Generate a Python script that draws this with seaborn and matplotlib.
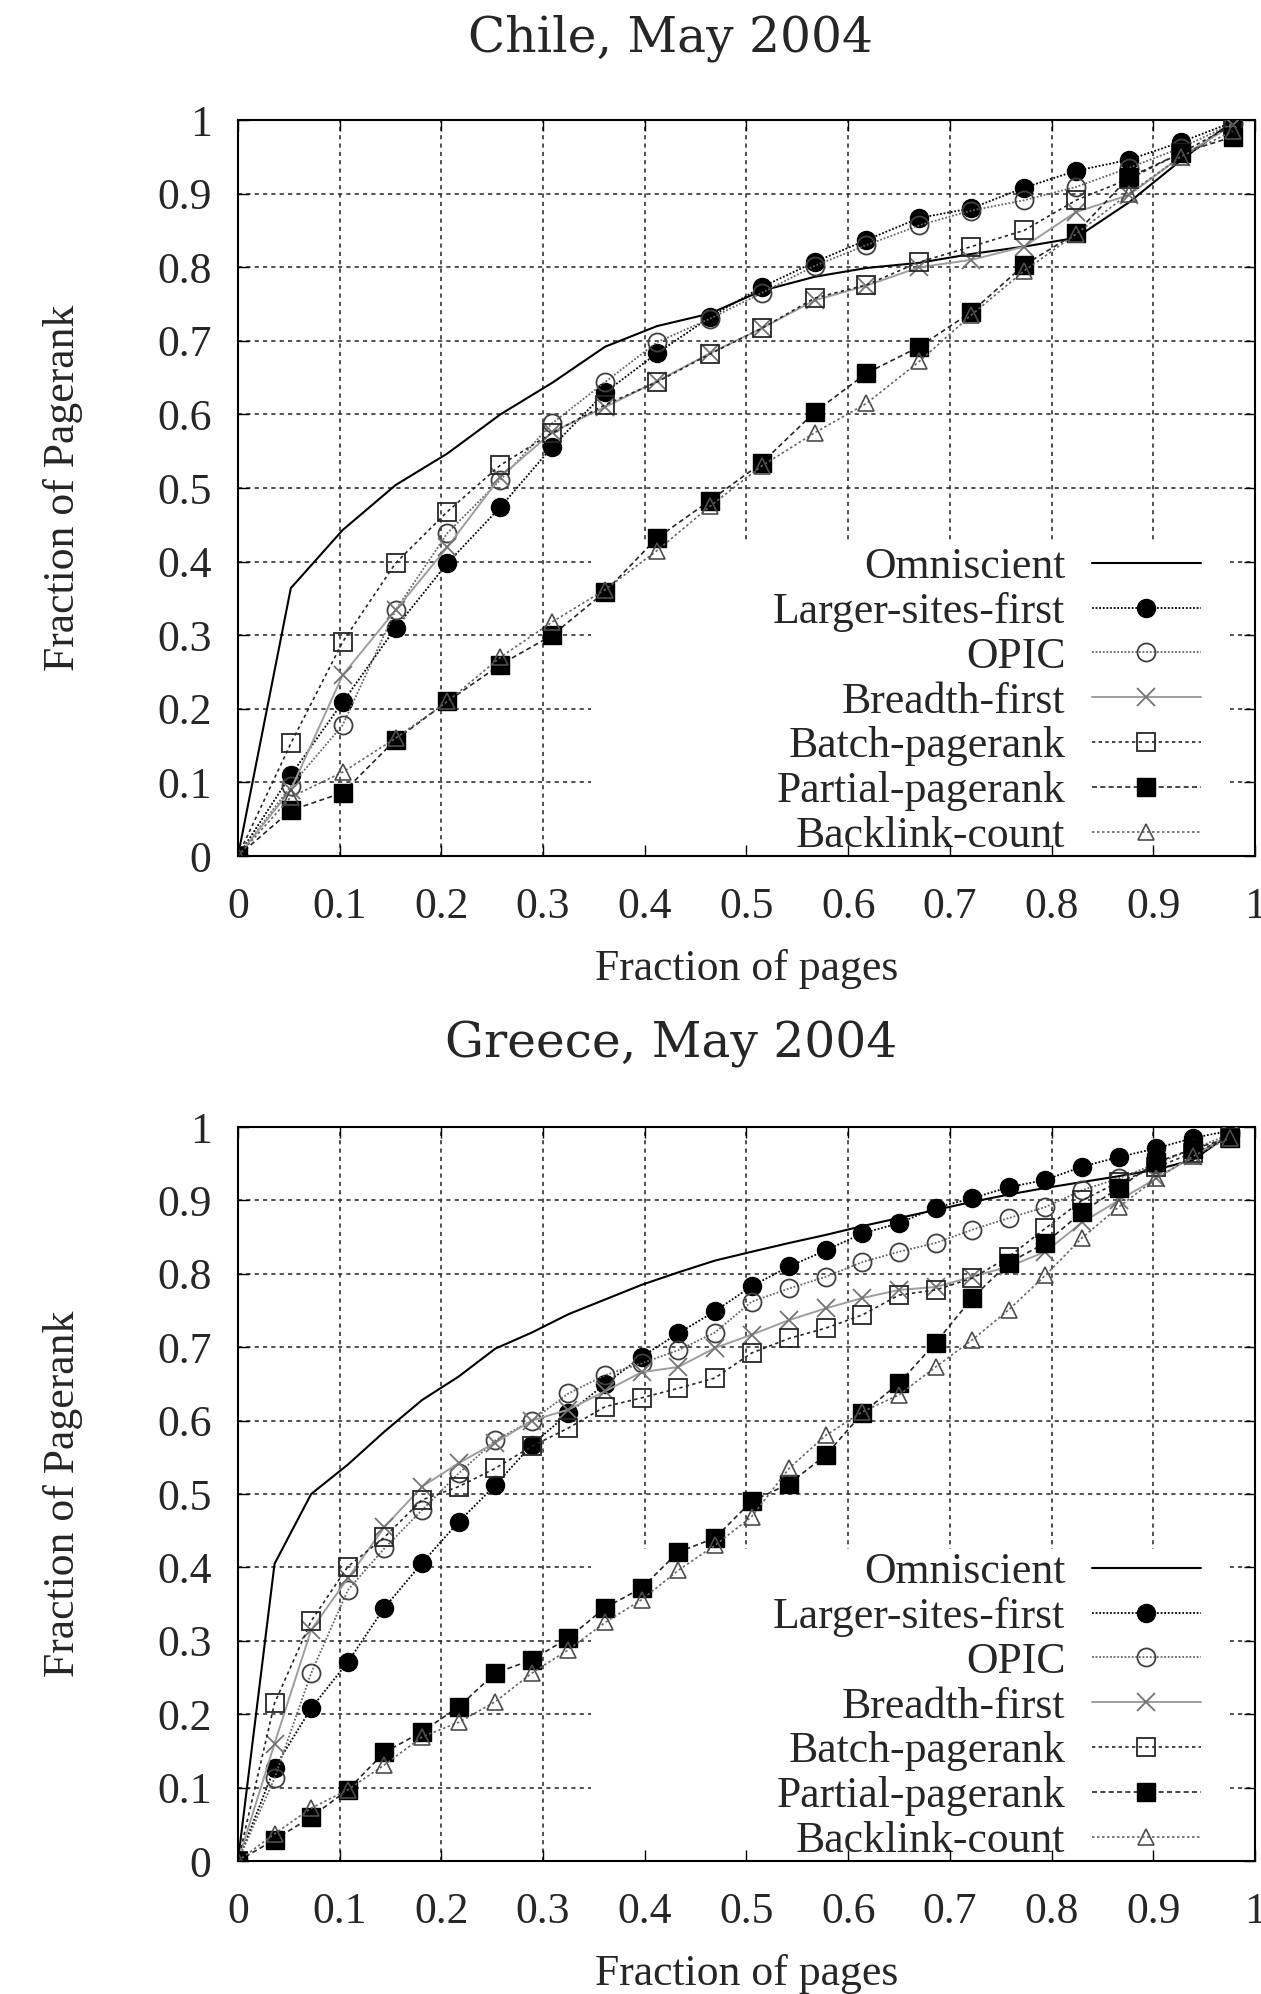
import matplotlib
matplotlib.use("Agg")
import matplotlib.pyplot as plt
import matplotlib.patches as mpatches
import seaborn as sns

# ---------------- data ----------------
series_names = ["Omniscient", "Larger-sites-first", "OPIC", "Breadth-first",
                "Batch-pagerank", "Partial-pagerank", "Backlink-count"]

# Chile, May 2004
chile_x = [0.0, 0.052, 0.103, 0.155, 0.206, 0.258, 0.309, 0.361, 0.412, 0.464,
           0.515, 0.567, 0.618, 0.670, 0.721, 0.773, 0.824, 0.876, 0.927, 0.978]
chile_omniscient = [0, 0.364, 0.443, 0.504, 0.547, 0.600, 0.643, 0.692, 0.720, 0.737,
                    0.768, 0.787, 0.799, 0.806, 0.818, 0.828, 0.840, 0.888, 0.945, 0.998]
chile_larger = [0, 0.110, 0.209, 0.310, 0.398, 0.474, 0.556, 0.630, 0.683, 0.732,
                0.773, 0.807, 0.837, 0.867, 0.880, 0.908, 0.931, 0.946, 0.970, 0.997]
chile_opic = [0, 0.095, 0.178, 0.334, 0.439, 0.511, 0.588, 0.644, 0.698, 0.730,
              0.765, 0.802, 0.830, 0.857, 0.877, 0.891, 0.909, 0.935, 0.962, 0.995]
chile_breadth = [0, 0.090, 0.246, 0.334, 0.420, 0.515, 0.576, 0.610, 0.645, 0.683,
                 0.717, 0.755, 0.775, 0.800, 0.810, 0.828, 0.875, 0.898, 0.950, 0.993]
chile_batch = [0, 0.153, 0.291, 0.398, 0.468, 0.531, 0.575, 0.613, 0.644, 0.682,
               0.717, 0.758, 0.776, 0.807, 0.828, 0.850, 0.891, 0.920, 0.955, 0.993]
chile_partial = [0, 0.062, 0.086, 0.158, 0.210, 0.260, 0.300, 0.359, 0.432, 0.483,
                 0.534, 0.603, 0.656, 0.692, 0.739, 0.803, 0.846, 0.922, 0.955, 0.977]
chile_backlink = [0, 0.080, 0.114, 0.160, 0.210, 0.270, 0.318, 0.362, 0.415, 0.475,
                  0.530, 0.575, 0.615, 0.672, 0.735, 0.795, 0.845, 0.900, 0.950, 0.985]

# Greece, May 2004
greece_x = [0.0, 0.036, 0.072, 0.108, 0.144, 0.181, 0.217, 0.253, 0.289, 0.325,
            0.361, 0.397, 0.433, 0.469, 0.505, 0.542, 0.578, 0.614, 0.650, 0.686,
            0.722, 0.758, 0.794, 0.830, 0.866, 0.903, 0.939, 0.975]
greece_omniscient = [0, 0.405, 0.500, 0.540, 0.585, 0.628, 0.660, 0.698, 0.720, 0.745,
                     0.765, 0.785, 0.802, 0.818, 0.830, 0.842, 0.853, 0.865, 0.876, 0.887,
                     0.898, 0.908, 0.917, 0.925, 0.933, 0.942, 0.955, 0.990]
greece_larger = [0, 0.127, 0.208, 0.271, 0.345, 0.406, 0.462, 0.512, 0.567, 0.610,
                 0.650, 0.687, 0.719, 0.749, 0.783, 0.810, 0.832, 0.855, 0.869, 0.890,
                 0.903, 0.918, 0.928, 0.946, 0.959, 0.971, 0.985, 0.995]
greece_opic = [0, 0.113, 0.256, 0.369, 0.426, 0.478, 0.528, 0.573, 0.600, 0.637,
               0.662, 0.678, 0.696, 0.720, 0.762, 0.780, 0.796, 0.816, 0.830, 0.842,
               0.860, 0.876, 0.891, 0.914, 0.930, 0.950, 0.970, 0.990]
greece_breadth = [0, 0.160, 0.315, 0.385, 0.455, 0.510, 0.542, 0.570, 0.600, 0.615,
                  0.640, 0.666, 0.673, 0.699, 0.717, 0.737, 0.753, 0.767, 0.778, 0.782,
                  0.796, 0.810, 0.830, 0.870, 0.900, 0.930, 0.960, 0.990]
greece_batch = [0, 0.215, 0.327, 0.401, 0.441, 0.492, 0.510, 0.535, 0.565, 0.590,
                0.619, 0.631, 0.644, 0.658, 0.692, 0.712, 0.726, 0.744, 0.771, 0.778,
                0.794, 0.823, 0.862, 0.900, 0.925, 0.945, 0.965, 0.985]
greece_partial = [0, 0.029, 0.060, 0.097, 0.148, 0.176, 0.210, 0.256, 0.274, 0.304,
                  0.345, 0.372, 0.421, 0.440, 0.490, 0.514, 0.553, 0.610, 0.651, 0.706,
                  0.767, 0.815, 0.842, 0.884, 0.917, 0.952, 0.970, 0.985]
greece_backlink = [0, 0.037, 0.072, 0.097, 0.131, 0.169, 0.189, 0.217, 0.256, 0.288,
                   0.325, 0.356, 0.396, 0.430, 0.469, 0.535, 0.580, 0.612, 0.635, 0.673,
                   0.710, 0.751, 0.798, 0.849, 0.891, 0.930, 0.960, 0.985]

tick_values = [0, 0.1, 0.2, 0.3, 0.4, 0.5, 0.6, 0.7, 0.8, 0.9, 1.0]
tick_labels = ["0", "0.1", "0.2", "0.3", "0.4", "0.5", "0.6", "0.7", "0.8", "0.9", "1"]

chile = [chile_omniscient, chile_larger, chile_opic, chile_breadth,
         chile_batch, chile_partial, chile_backlink]
greece = [greece_omniscient, greece_larger, greece_opic, greece_breadth,
          greece_batch, greece_partial, greece_backlink]

# gnuplot-like line styles
styles = {
    "Omniscient": dict(color="black", linestyle="-", linewidth=1.5, marker=None),
    "Larger-sites-first": dict(color="black", linestyle=(0, (1, 1)), linewidth=1.3,
                               marker="o", markersize=13, markerfacecolor="black",
                               markeredgecolor="black", markeredgewidth=1),
    "OPIC": dict(color="0.4", linestyle=(0, (1, 1)), linewidth=1.3,
                 marker="o", markersize=13, markerfacecolor="none",
                 markeredgecolor="0.25", markeredgewidth=1.3),
    "Breadth-first": dict(color="0.62", linestyle="-", linewidth=1.4,
                          marker="x", markersize=13, markeredgecolor="0.45",
                          markeredgewidth=1.3),
    "Batch-pagerank": dict(color="0.15", linestyle=(0, (2, 2)), linewidth=1.2,
                           marker="s", markersize=13, markerfacecolor="none",
                           markeredgecolor="0.15", markeredgewidth=1.3),
    "Partial-pagerank": dict(color="0.15", linestyle=(0, (3, 2)), linewidth=1.2,
                             marker="s", markersize=13, markerfacecolor="black",
                             markeredgecolor="black", markeredgewidth=1),
    "Backlink-count": dict(color="0.4", linestyle=(0, (1.5, 1.5)), linewidth=1.2,
                           marker="^", markersize=12, markerfacecolor="none",
                           markeredgecolor="0.3", markeredgewidth=1.2),
}

sns.set_theme(style="ticks")
plt.rcParams["font.family"] = ["Liberation Serif", "DejaVu Serif"]

fig = plt.figure(figsize=(12.61, 19.94), dpi=100)
fs = 31.5


def draw_panel(rect, x, values, title, title_y):
    ax = fig.add_axes(rect)
    ax.set_axisbelow(True)
    ax.grid(True, color="0.2", linestyle=(0, (2.5, 2.5)), linewidth=1.2)
    # blank region behind the key, like gnuplot
    ax.add_patch(mpatches.Rectangle((0.347, 0.0), 0.628, 0.425, transform=ax.transAxes,
                                    facecolor="white", edgecolor="none", zorder=1))
    for name, y in zip(series_names, values):
        sns.lineplot(x=x, y=y, ax=ax, label=name, sort=False, estimator=None,
                     legend=False, zorder=3, **styles[name])
    ax.set_xlim(0, 1)
    ax.set_ylim(0, 1)
    ax.set_xticks(tick_values, tick_labels)
    ax.set_yticks(tick_values, tick_labels)
    ax.tick_params(axis="both", length=0, labelsize=fs)
    ax.tick_params(axis="x", pad=22)
    ax.tick_params(axis="y", pad=19)
    for s in ax.spines.values():
        s.set_color("black")
        s.set_linewidth(1.5)
    ax.set_xlabel("Fraction of pages", fontsize=fs)
    ax.set_ylabel("Fraction of Pagerank", fontsize=fs)
    ax.xaxis.set_label_coords(0.5, -0.127)
    ax.yaxis.set_label_coords(-0.152, 0.5)

    handles, labels = ax.get_legend_handles_labels()
    ax.legend(handles, labels, loc="lower right", bbox_to_anchor=(0.947, 0.0),
              markerfirst=False, frameon=False, fontsize=fs, handlelength=2.5,
              handletextpad=0.6, labelspacing=0.11, borderaxespad=0, borderpad=0)

    # inward ticks on all four sides, drawn above the blanked key region
    ov = fig.add_axes(rect, sharex=ax, sharey=ax)
    ov.patch.set_visible(False)
    ov.grid(False)
    ov.tick_params(direction="in", length=8, width=1, top=True, right=True,
                   labelbottom=False, labelleft=False, color="black")
    for s in ov.spines.values():
        s.set_visible(False)

    fig.text(671 / 1261, title_y, title, ha="center", va="center",
             fontsize=35, family="DejaVu Serif")
    return ax


draw_panel([0.1887, 0.5707, 0.8065, 0.3691], chile_x, chile, "Chile, May 2004", 1 - 38 / 1994)
draw_panel([0.1887, 0.0667, 0.8065, 0.3681], greece_x, greece, "Greece, May 2004", 1 - 1045 / 1994)

fig.savefig("out.png", dpi=100, facecolor="white")
